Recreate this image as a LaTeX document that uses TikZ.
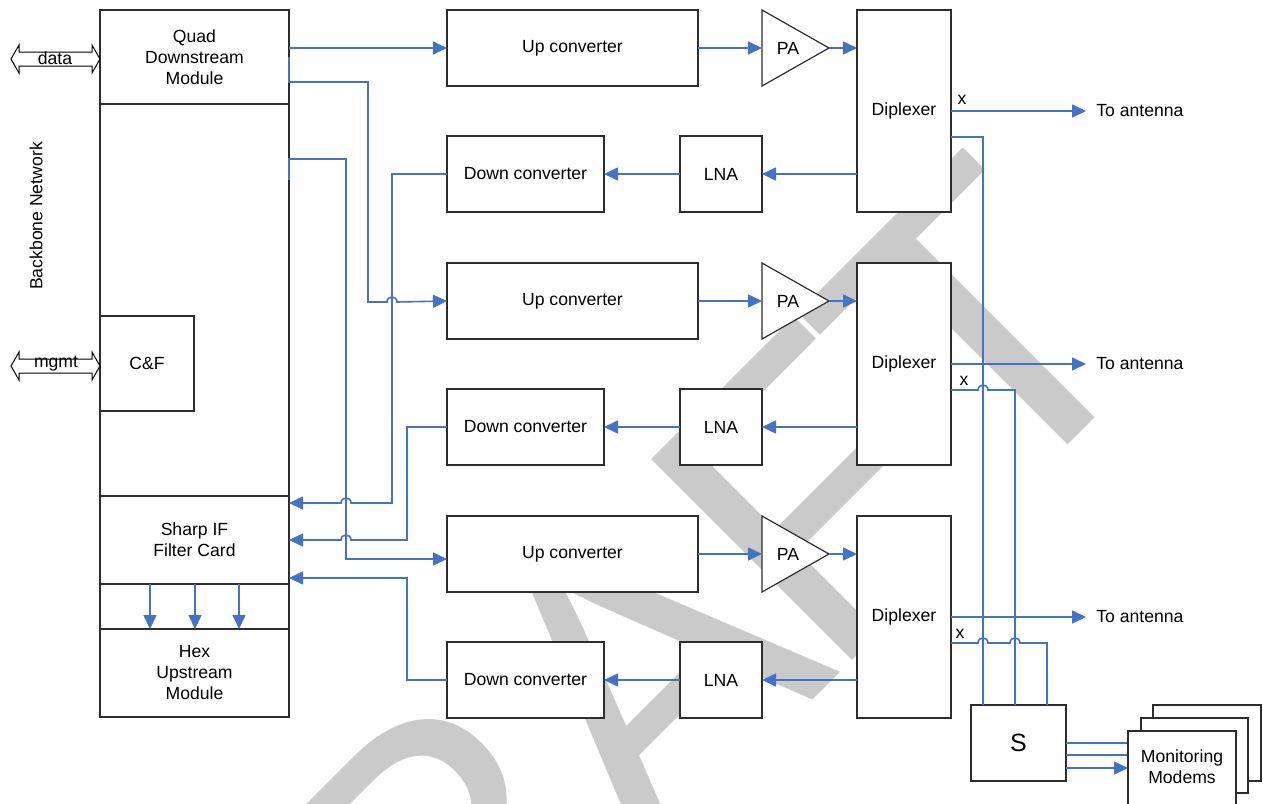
\documentclass[tikz,border=0pt]{standalone}
\usepackage{fontspec}
\setmainfont{Liberation Sans}
\usetikzlibrary{arrows.meta,fit,calc}
\definecolor{lnblue}{RGB}{68,114,196}
\definecolor{wmgray}{RGB}{202,202,202}
\definecolor{bdr}{RGB}{45,45,45}
\newcommand\lblfont{\fontsize{8.8}{10.5}\selectfont}
\begin{document}
\begin{tikzpicture}[x=0.5pt,y=-0.5pt,
  box/.style={draw=bdr, line width=0.6pt, fill=white, inner sep=0pt, outer sep=0pt},
  conn/.style={draw=lnblue, line width=0.8pt},
  arr/.style={conn, -{Triangle[length=7pt,width=6.5pt]}},
  lbl/.style={inner sep=0pt, align=center, font=\lblfont},
  dbl/.style={draw=black, line width=0.5pt, fill=white, line join=miter},
  wm/.style={rotate=45, inner sep=0pt, text=wmgray, font=\fontsize{206.5}{206.5}\selectfont}]

\path[use as bounding box] (0,0) rectangle (1263,803);

% watermark
\node[wm, anchor=base east] (wm1) at (842.1,670.9) {DRA};
\node[wm, anchor=base west] (wm2) at (827.9,685.1) {F};
\node[wm, anchor=base west] (wm3) at (992,521) {T};

% left column
\node[box, fit={(100,10)(289,104)}] (qdm) {};
\node[box, fit={(100,104)(289,496)}] (mid) {};
\node[box, fit={(100,496)(289,584)}] (sif) {};
\node[box, fit={(100,584)(289,629)}] (gap) {};
\node[box, fit={(100,629)(289,717)}] (hex) {};
\node[box, fit={(100,316)(194,411)}] (cf) {};
\node[lbl] (qdmt) at (qdm.center) {Quad\\Downstream\\Module};
\node[lbl] (sift) at (sif.center) {Sharp IF\\Filter Card};
\node[lbl] (hext) at (hex.center) {Hex\\Upstream\\Module};
\node[lbl] (cft) at (cf.center) {C\&F};

\node[lbl, rotate=90] (bb) at (36,216) {Backbone Network};

% double arrows
\draw[dbl] (11,59) -- (19,45) -- (19,52) -- (92,52) -- (92,45) -- (100,59) -- (92,73) -- (92,66) -- (19,66) -- (19,73) -- cycle;
\node[lbl] (data) at (55,58) {data};
\draw[dbl] (11,366) -- (19,352) -- (19,359) -- (92,359) -- (92,352) -- (100,366) -- (92,380) -- (92,373) -- (19,373) -- (19,380) -- cycle;
\node[lbl] (mgmt) at (56,364) {mgmt};

% rows
\foreach \r/\o in {1/0,2/253,3/506}{
  \node[box, fit={(447,{10+\o})(698,{86+\o})}] (uc\r) {};
  \node[lbl] (uct\r) at (uc\r.center) {Up converter};
  \draw[draw=bdr, line width=0.6pt, fill=white] (762,{10+\o}) -- (829,{48+\o}) -- (762,{86+\o}) -- cycle;
  \node[lbl] (pa\r) at (788,{48+\o}) {PA};
  \coordinate (pain\r) at (762,{48+\o});
  \coordinate (paout\r) at (829,{48+\o});
  \node[box, fit={(857,{10+\o})(951,{212+\o})}] (dx\r) {};
  \node[lbl] (dxt\r) at (dx\r.center) {Diplexer};
  \node[box, fit={(680,{136+\o})(762,{212+\o})}] (lna\r) {};
  \node[lbl] (lnat\r) at (lna\r.center) {LNA};
  \node[box, fit={(447,{136+\o})(604,{212+\o})}] (dc\r) {};
  \node[lbl] (dct\r) at (dc\r.center) {Down converter};
  \draw[arr] (uc\r.east) -- (pain\r);
  \draw[arr] (paout\r) -- (dx\r.west |- paout\r);
  \draw[arr] (dx\r.west |- lna\r.east) -- (lna\r.east);
  \draw[arr] (lna\r.west) -- (dc\r.east);
  \coordinate (ant\r) at (1086,{111+\o});
  \draw[arr] (dx\r.east |- ant\r) -- (ant\r);
  \node[lbl, anchor=west] (antl\r) at (1096,{111+\o}) {To antenna};
}

\node[lbl] (x1) at (962,100) {x};
\node[lbl] (x2) at (964,381) {x};
\node[lbl] (x3) at (960,634) {x};

% left column connectors
\coordinate (q1) at (289,48);
\draw[arr] (q1) -- (uc1.west |- q1);
\draw[arr] (qdm.east) -- (289,82) -- (368,82) -- (368,302) -- (387,302) .. controls (387,295.3) and (397,295.3) .. (397,302) -- (uc2.west);
\coordinate (q3) at (289,180);
\coordinate (u3in) at (447,559);
\draw[arr] (q3) -- (289,159) -- (346,159) -- (346,559) -- (u3in);

\coordinate (r1) at (289,503);
\coordinate (r2) at (289,540);
\coordinate (r3) at (289,578);
\draw[arr] (dc1.west) -- (392,174) -- (392,503) -- (351,503) .. controls (351,496.3) and (341,496.3) .. (341,503) -- (r1);
\draw[arr] (dc2.west) -- (407,427) -- (407,540) -- (351,540) .. controls (351,533.3) and (341,533.3) .. (341,540) -- (r2);
\draw[arr] (dc3.west) -- (407,680) -- (407,578) -- (r3);

\foreach \xx in {150,195,239}{
  \draw[arr] (sif.south -| \xx,0) -- (hex.north -| \xx,0);
}

% S and monitoring modems
\node[box, fit={(971,705)(1066,781)}] (s) {};
\node[inner sep=0pt, font=\fontsize{12.5}{15}\selectfont] (st) at (s.center) {S};
\coordinate (c1) at (951,137);
\coordinate (c2) at (951,390);
\coordinate (c3) at (951,643);
\draw[conn] (c1) -- (983,137) -- (s.north -| 983,0);
\draw[conn] (c2) -- (978,390) .. controls (978,383.3) and (988,383.3) .. (988,390) -- (1015,390) -- (s.north -| 1015,0);
\draw[conn] (c3) -- (978,643) .. controls (978,636.3) and (988,636.3) .. (988,643) -- (1010,643) .. controls (1010,636.3) and (1020,636.3) .. (1020,643) -- (1047,643) -- (s.north -| 1047,0);

\coordinate (m1) at (1153,743);
\coordinate (m2) at (1141,755);
\coordinate (m3) at (1128,768);
\draw[arr] (s.east |- m1) -- (m1);
\draw[arr] (s.east |- m2) -- (m2);
\node[box, fit={(1153,705)(1261,781)}] (mmc) {};
\node[box, fit={(1141,718)(1248,793)}] (mmb) {};
\filldraw[draw=bdr, line width=0.6pt, fill=white] (1128,810) -- (1128,731) -- (1236,731) -- (1236,810);
\node[lbl] (mma) at (1182,767) {Monitoring\\Modems};
\draw[arr] (s.east |- m3) -- (m3);

\end{tikzpicture}
\end{document}
